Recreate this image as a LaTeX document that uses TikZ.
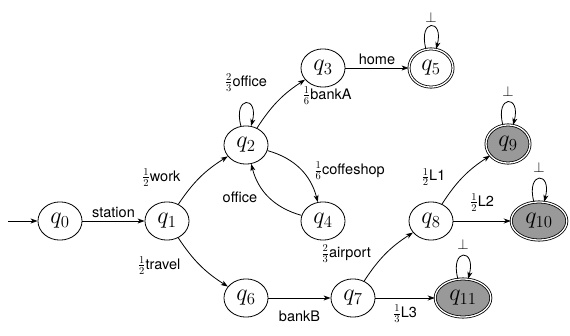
\RequirePackage{fix-cm}
\documentclass[tikz,border=0pt]{standalone}
\usepackage{amsmath}
\usepackage{fontspec}
\setsansfont{TeX Gyre Heros}
\usepackage{tikz}
\usetikzlibrary{positioning}
\usetikzlibrary{arrows.meta}
\usetikzlibrary{shapes.geometric}
\tikzset{every loop/.style={min distance=14pt, looseness=8}}
\newcommand{\fr}[2]{$\frac{\mbox{\rmfamily\fontsize{10.5}{11}\selectfont#1}}{\mbox{\rmfamily\fontsize{10.5}{11}\selectfont#2}}$}

\begin{document}
\begin{tikzpicture}
[
x=1pt, y=1pt,
>={Stealth[length=7pt,width=5pt,inset=2pt]},
every node/.style={font=\sffamily\fontsize{14.5}{17}\selectfont},
st/.style={ellipse, draw=black, line width=0.8pt, inner sep=6pt, font=\fontsize{24}{28}\selectfont},
acc/.style={st, double, double distance=1.3pt},
fin/.style={acc, fill=black!40}
]
\useasboundingbox (0,0) rectangle (570,335);

\node[st] (q0) at (60,114) {$q_0$};
\node[st] (q1) at (167,114) {$q_1$};
\node[st] (q2) at (246,190) {$q_2$};
\node[st] (q3) at (323,267) {$q_3$};
\node[acc] (q5) at (431,267) {$q_5$};
\node[st] (q4) at (323,114) {$q_4$};
\node[st] (q6) at (246,37) {$q_6$};
\node[st] (q7) at (353,37) {$q_7$};
\node[st] (q8) at (431,114) {$q_8$};
\node[fin] (q9) at (508,191) {$q_9$};
\node[fin] (q10) at (539,114) {$q_{10}$};
\node[fin] (q11) at (463,37) {$q_{11}$};
\coordinate (s) at (8,114);

\draw[->, line width=0.8pt] (s) -- (q0);
\draw[->, line width=0.8pt] (q0) -- node[above] {station} (q1);
\draw[->, line width=0.8pt] (q1) to[bend left=12] node[left=16pt] {\fr{1}{2}work} (q2);
\draw[->, line width=0.8pt] (q1) to[bend right=12] node[left=16pt] {\fr{1}{2}travel} (q6);
\draw[->, line width=0.8pt] (q2) to[loop above] node[above=8pt] {\fr{2}{3}office} (q2);
\draw[->, line width=0.8pt] (q2) to[bend left=12] node[pos=1, below right=3pt and -6pt] {\fr{1}{6}bankA} (q3);
\draw[->, line width=0.8pt] (q3) -- node[above] {home} (q5);
\draw[->, line width=0.8pt] (q5) to[loop above] node[above] {$\bot$} (q5);
\draw[->, line width=0.8pt] (q2) to[bend left=30] node[pos=0.75, above right] {\fr{1}{6}coffeshop} (q4);
\draw[->, line width=0.8pt] (q4) to[bend left=30] node[left=8pt] {office} (q2);
\draw[->, line width=0.8pt] (q6) -- node[below=9pt] {bankB} (q7);
\draw[->, line width=0.8pt] (q7) to[bend left=12] node[left=11pt] {\fr{2}{3}airport} (q8);
\draw[->, line width=0.8pt] (q7) -- node[below=3pt] {\fr{1}{3}L3} (q11);
\draw[->, line width=0.8pt] (q8) to[bend left=12] node[left=14pt] {\fr{1}{2}L1} (q9);
\draw[->, line width=0.8pt] (q8) -- node[above=6pt] {\fr{1}{2}L2} (q10);
\draw[->, line width=0.8pt] (q9) to[loop above] node[above=2pt] {$\bot$} (q9);
\draw[->, line width=0.8pt] (q10) to[loop above] node[above=2pt] {$\bot$} (q10);
\draw[->, line width=0.8pt] (q11) to[loop above] node[above=2pt] {$\bot$} (q11);
\end{tikzpicture}
\end{document}
